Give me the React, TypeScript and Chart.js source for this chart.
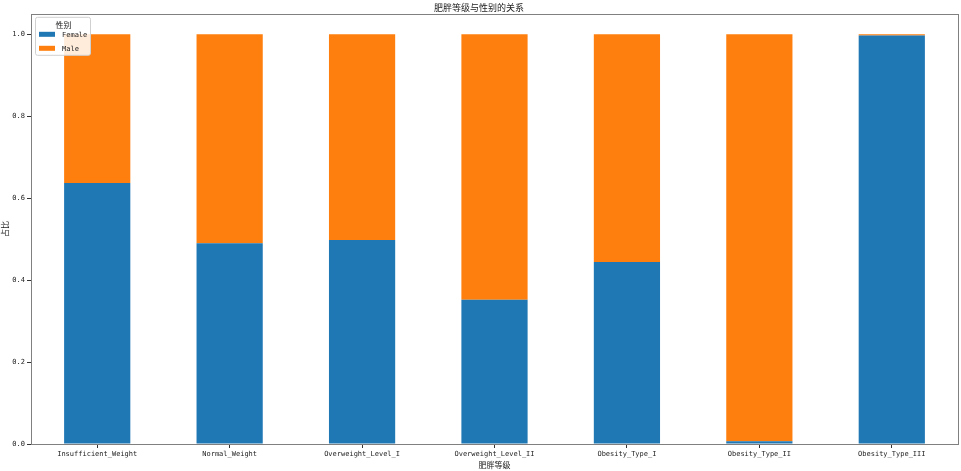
import React, { useEffect, useRef } from "react";
import { Chart, registerables } from "chart.js";

Chart.register(...registerables);

const categories = [
  "Insufficient_Weight",
  "Normal_Weight",
  "Overweight_Level_I",
  "Overweight_Level_II",
  "Obesity_Type_I",
  "Obesity_Type_II",
  "Obesity_Type_III",
];
const femaleShare = [0.637, 0.49, 0.498, 0.352, 0.444, 0.007, 0.997];
const maleShare = [0.363, 0.51, 0.502, 0.648, 0.556, 0.993, 0.003];
const yTicks = [0, 0.2, 0.4, 0.6, 0.8, 1.0];

const monoFont = "'DejaVu Sans Mono', 'Noto Sans CJK SC', monospace";
const cjkFont = "'Noto Sans CJK SC', 'DejaVu Sans', sans-serif";

// frame on all four sides + legend drawn inside the axes, matplotlib style
const framePlugin = {
  id: "frameAndLegend",
  afterDraw(chart: any) {
    const { ctx, chartArea } = chart;
    ctx.save();
    ctx.strokeStyle = "#808080";
    ctx.lineWidth = 1;
    ctx.strokeRect(
      Math.round(chartArea.left) + 0.5,
      Math.round(chartArea.top) + 0.5,
      Math.round(chartArea.right - chartArea.left),
      Math.round(chartArea.bottom - chartArea.top)
    );

    const x0 = chartArea.left + 4;
    const y0 = chartArea.top + 3;
    const w = 55;
    const h = 38;
    ctx.fillStyle = "rgba(255,255,255,0.85)";
    ctx.strokeStyle = "#d0d0d0";
    ctx.beginPath();
    ctx.roundRect(x0 + 0.5, y0 + 0.5, w, h, 2);
    ctx.fill();
    ctx.stroke();

    ctx.fillStyle = "#222";
    ctx.textBaseline = "middle";
    ctx.textAlign = "center";
    ctx.font = `8px ${cjkFont}`;
    ctx.fillText("性别", x0 + w / 2 + 1, y0 + 8);

    ctx.textAlign = "left";
    ctx.font = `7px ${monoFont}`;
    chart.data.datasets.forEach((ds: any, i: number) => {
      const ry = y0 + 15 + i * 14;
      ctx.fillStyle = ds.backgroundColor;
      ctx.fillRect(x0 + 4, ry, 16, 5);
      ctx.fillStyle = "#222";
      ctx.fillText(ds.label, x0 + 27, ry + 3);
    });
    ctx.restore();
  },
};

export default function App() {
  const canvasRef = useRef<HTMLCanvasElement>(null);

  useEffect(() => {
    document.body.style.margin = "0";
    if (!canvasRef.current) return;
    const myChart = new Chart(canvasRef.current, {
      type: "bar",
      data: {
        labels: categories,
        datasets: [
          {
            label: "Female",
            data: femaleShare,
            backgroundColor: "#1f77b4",
            categoryPercentage: 1,
            barPercentage: 0.5,
          },
          {
            label: "Male",
            data: maleShare,
            backgroundColor: "#ff7f0e",
            categoryPercentage: 1,
            barPercentage: 0.5,
          },
        ],
      },
      options: {
        animation: false,
        responsive: false,
        devicePixelRatio: 1,
        layout: { padding: { left: 0, right: 3, top: 0, bottom: 0 } },
        plugins: {
          legend: { display: false },
          tooltip: { enabled: false },
          title: {
            display: true,
            text: "肥胖等级与性别的关系",
            color: "#222",
            font: { family: cjkFont, size: 9, weight: "normal" },
            padding: { top: 2, bottom: 1 },
          },
        },
        scales: {
          x: {
            stacked: true,
            grid: {
              display: true,
              drawOnChartArea: false,
              offset: false,
              tickLength: 4,
              color: "#333",
            },
            border: { display: false },
            ticks: {
              color: "#222",
              padding: 2,
              maxRotation: 0,
              autoSkip: false,
              font: { family: monoFont, size: 7 },
            },
            title: {
              display: true,
              text: "肥胖等级",
              color: "#222",
              font: { family: cjkFont, size: 8 },
              padding: { top: 0, bottom: 1 },
            },
            afterFit(scale: any) {
              scale.height = 27;
            },
          },
          y: {
            stacked: true,
            min: 0,
            max: 1.05,
            afterBuildTicks(scale: any) {
              scale.ticks = yTicks.map((v) => ({ value: v }));
            },
            grid: {
              display: true,
              drawOnChartArea: false,
              tickLength: 4,
              color: "#333",
            },
            border: { display: false },
            ticks: {
              color: "#222",
              padding: 2,
              font: { family: monoFont, size: 7 },
              callback: function (value: any) {
                return Number(value).toFixed(1);
              },
            },
            title: {
              display: true,
              text: "占比",
              color: "#222",
              font: { family: cjkFont, size: 8 },
              padding: { top: 0, bottom: 0 },
            },
            afterFit(scale: any) {
              scale.width = 31;
            },
          },
        },
      },
      plugins: [framePlugin],
    });
    return () => {
      myChart.destroy();
    };
  }, []);

  return (
    <div style={{ width: 961, height: 471, background: "#fff" }}>
      <canvas ref={canvasRef} width={961} height={471} />
    </div>
  );
}
